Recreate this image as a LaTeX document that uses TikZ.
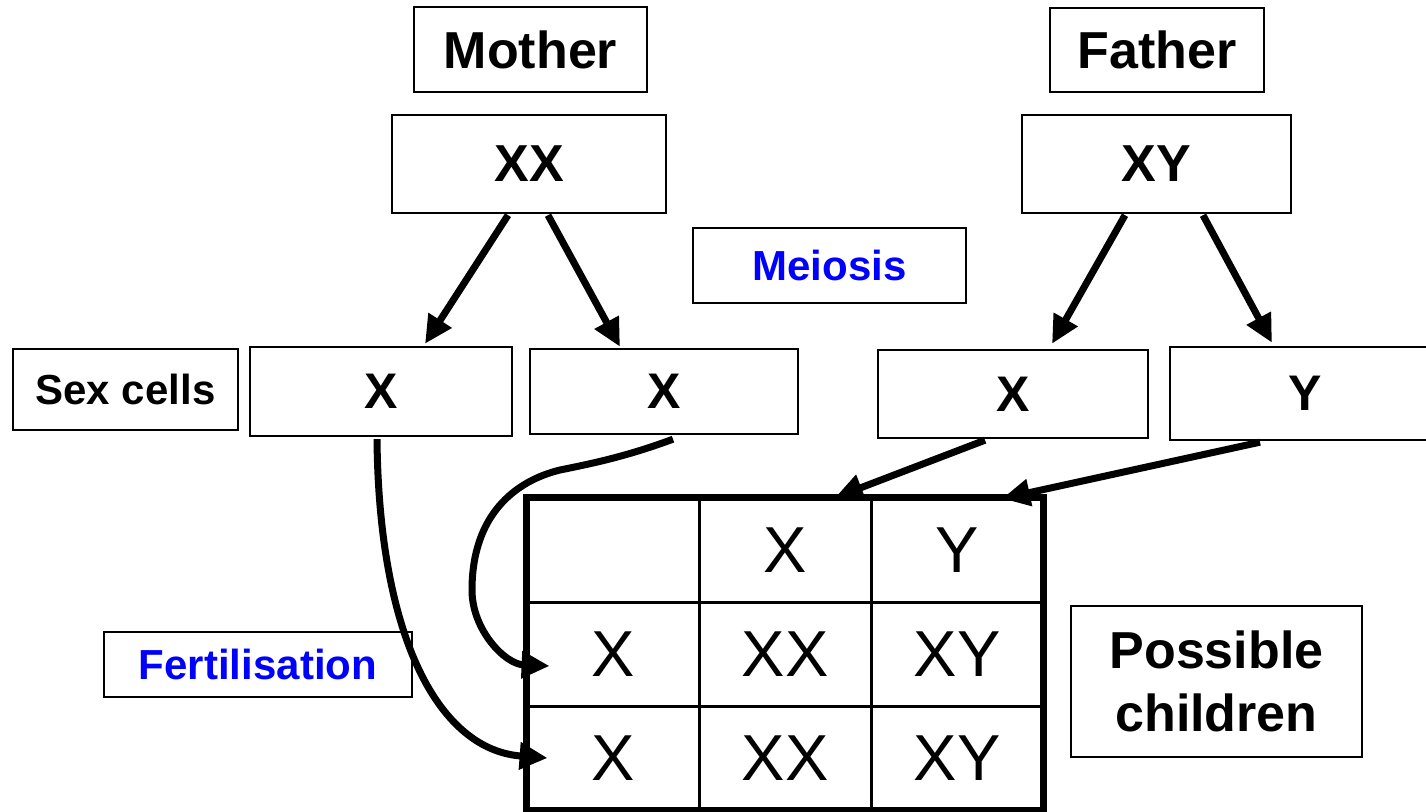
\documentclass[tikz,border=0pt]{standalone}
\usepackage{fontspec}
\setmainfont{Liberation Sans}
\usetikzlibrary{arrows.meta,calc}
\definecolor{labelblue}{RGB}{0,0,255}
\begin{document}
\begin{tikzpicture}[x=0.5pt,y=-0.5pt,
  box/.style={draw,line width=1.2pt,inner sep=0pt,fill=white},
  big/.style={font=\bfseries\fontsize{26}{31}\selectfont},
  mid/.style={font=\bfseries\fontsize{25}{30}\selectfont},
  small/.style={font=\bfseries\fontsize{21}{25}\selectfont},
  bluetxt/.style={small,text=labelblue},
  cell/.style={inner sep=0pt,minimum width=86pt,minimum height=52pt,font=\fontsize{32.5}{38}\selectfont},
  grid/.style={line width=1.5pt},
  arr/.style={line width=3.5pt,-{Triangle[length=14pt,width=13pt]}}
]
\useasboundingbox (0,0) rectangle (1426,812);
\fill[white] (0,0) rectangle (1426,812);

% parents
\node[box,big,minimum width=116.5pt,minimum height=42.5pt] (mother) at (530.5,49.5) {Mother};
\node[box,big,minimum width=137pt,minimum height=49pt] (mxx) at (529,164) {XX};
\node[box,big,minimum width=107pt,minimum height=42pt] (father) at (1157,50) {Father};
\node[box,big,minimum width=134.5pt,minimum height=49pt] (fxy) at (1156.5,164) {XY};

% labels
\node[box,bluetxt,minimum width=136.5pt,minimum height=37.5pt] (meiosis) at (829.5,265.5) {Meiosis};
\node[box,small,minimum width=112.5pt,minimum height=40.5pt] (sexcells) at (125.5,389.5) {Sex cells};
\node[box,bluetxt,minimum width=154pt,minimum height=32.5pt] (fert) at (258,664.5) {Fertilisation};
\node[box,big,minimum width=145.5pt,minimum height=75.5pt,align=center,
      font=\bfseries\fontsize{26}{31.5}\selectfont] (children) at (1216.5,681.5) {Possible\\children};

% sex cells
\node[box,mid,minimum width=131pt,minimum height=44.5pt] (mx1) at (381,391.5) {X};
\node[box,mid,minimum width=134pt,minimum height=42.5pt] (mx2) at (664,391.5) {X};
\node[box,mid,minimum width=135pt,minimum height=44pt] (fx) at (1013,394) {X};
\node[box,mid,minimum width=135pt,minimum height=46.5pt] (fy) at (1305,393.5) {Y};

% Punnett square
\node[cell] (c11) at (613,550) {};
\node[cell] (c12) at (785,550) {X};
\node[cell] (c13) at (957,550) {Y};
\node[cell] (c21) at (613,654) {X};
\node[cell] (c22) at (785,654) {XX};
\node[cell] (c23) at (957,654) {XY};
\node[cell] (c31) at (613,758) {X};
\node[cell] (c32) at (785,758) {XX};
\node[cell] (c33) at (957,758) {XY};
\draw[grid] (c11.north east) -- (c31.south east);
\draw[grid] (c12.north east) -- (c32.south east);
\draw[grid] (c11.south west) -- (c13.south east);
\draw[grid] (c21.south west) -- (c23.south east);
\draw[line width=3.5pt] (c11.north west) rectangle (c33.south east);

% meiosis arrows
\draw[arr] ($(mxx.south)+(-21,1)$) -- ($(mx1.north)+(44,-2)$);
\draw[arr] ($(mxx.south)+(19,1)$) -- ($(mx2.north)+(-44,-1)$);
\draw[arr] ($(fxy.south)+(-31.5,1)$) -- ($(fx.north)+(39,-5)$);
\draw[arr] ($(fxy.south)+(46.5,1)$) -- ($(fy.north)+(-33,-3)$);

% father gametes to square
\draw[arr] ($(fx.south)+(-28,1)$) -- ($(c12.north)+(50,0)$);
\draw[arr] ($(fy.south)+(-45,1)$) -- ($(c13.north)+(45,1)$);

% mother gametes to square
\draw[arr] ($(mx1.south)+(-4,2)$) .. controls (379,640) and (440,750) .. ($(c31.west)+(21,0)$);
\draw[arr] ($(mx2.south)+(9,4)$) .. controls (630,455) and (600,462) .. (560,470)
   .. controls (515,481) and (472,515) .. (472,590)
   .. controls (472,630) and (505,664) .. ($(c21.west)+(23,12)$);
\end{tikzpicture}
\end{document}
